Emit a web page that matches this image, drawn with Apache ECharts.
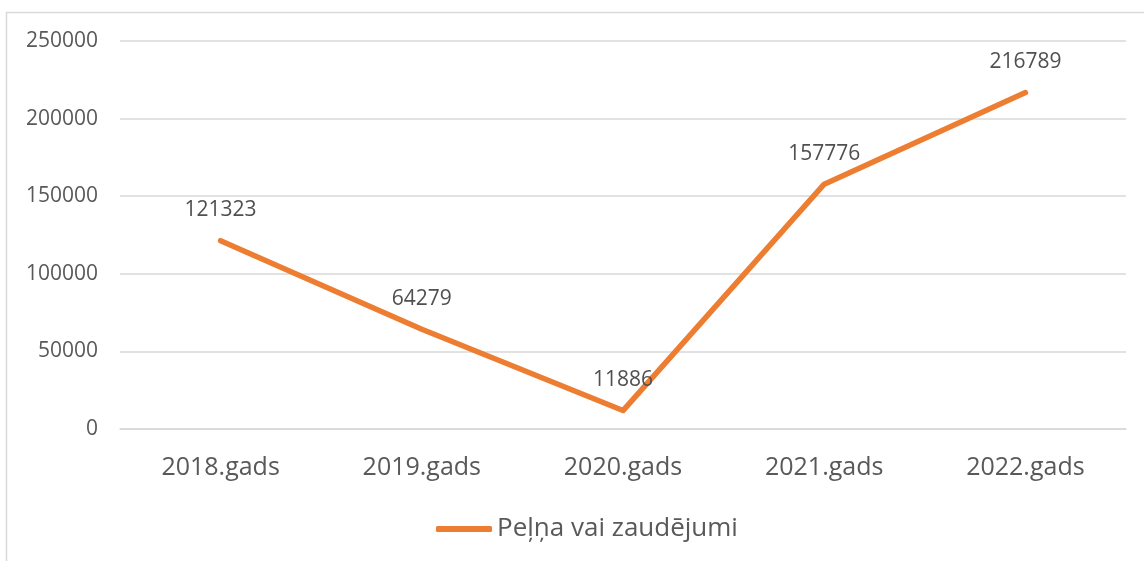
<!DOCTYPE html>
<html>
<head>
<meta charset="utf-8">
<script src="https://cdn.jsdelivr.net/npm/echarts@6/dist/echarts.min.js"></script>
<style>
  html, body { margin: 0; padding: 0; background: #fff; }
  #chart { width: 1144px; height: 561px; }
</style>
</head>
<body>
<div id="chart"></div>
<script>
// dati
const years = ['2018.gads', '2019.gads', '2020.gads', '2021.gads', '2022.gads']
const profit = [121323, 64279, 11886, 157776, 216789]
const seriesName = 'Peļņa vai zaudējumi'

const chart = echarts.init(document.getElementById('chart'))

const textColor = '#595959'
const gridColor = '#d9d9d9'
const lineColor = '#ED7D31'
const font = '"Open Sans", "Noto Sans", sans-serif'

chart.setOption({
  animation: false,
  textStyle: { fontFamily: font },
  graphic: [{
    type: 'rect',
    shape: { x: 6.5, y: 12.5, width: 1300, height: 700 },
    style: { fill: 'none', stroke: gridColor, lineWidth: 1.5 },
    silent: true
  }],
  grid: { left: 120, right: 18, top: 41, bottom: 132 },
  legend: {
    left: 431,
    top: 511,
    icon: 'roundRect',
    itemWidth: 56,
    itemHeight: 6,
    data: [{ name: seriesName, itemStyle: { color: lineColor } }],
    textStyle: { color: textColor, fontSize: 26, fontFamily: font }
  },
  xAxis: {
    type: 'category',
    data: years,
    boundaryGap: true,
    axisLine: { show: true, lineStyle: { color: gridColor, width: 1.5 } },
    axisTick: { show: false },
    axisLabel: { color: textColor, fontSize: 25, margin: 26, fontFamily: font }
  },
  yAxis: {
    type: 'value',
    min: 0,
    max: 250000,
    interval: 50000,
    axisLine: { show: false },
    axisTick: { show: false },
    splitLine: { lineStyle: { color: gridColor, width: 1.5 } },
    axisLabel: {
      color: textColor, fontSize: 21, margin: 22, fontFamily: font,
      formatter: v => String(v)
    }
  },
  series: [{
    name: seriesName,
    type: 'line',
    data: profit,
    showSymbol: true,
    symbol: 'circle',
    symbolSize: 2,
    color: lineColor,
    itemStyle: { color: lineColor },
    lineStyle: { width: 5.5, color: lineColor, cap: 'round', join: 'round' },
    label: {
      show: true,
      position: 'top',
      distance: 19,
      color: '#505050',
      fontSize: 21,
      fontFamily: font
    }
  }]
})
</script>
</body>
</html>
